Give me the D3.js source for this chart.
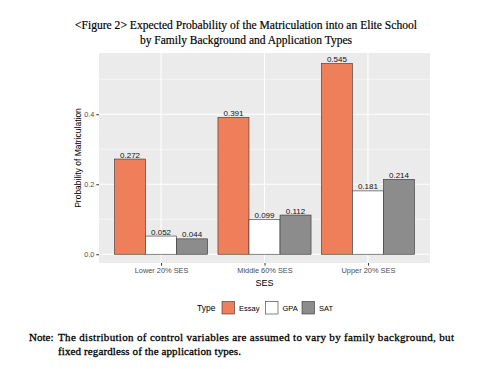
<!DOCTYPE html>
<html><head><meta charset="utf-8">
<script src="https://cdn.jsdelivr.net/npm/d3@7"></script>
<style>body{margin:0;background:#fff;} svg{display:block;}</style>
</head><body>
<svg id="c" width="487" height="369"></svg>
<script>
const categories = ["Lower 20% SES", "Middle 60% SES", "Upper 20% SES"];
const types = ["Essay", "GPA", "SAT"];
const essay = [0.272, 0.391, 0.545];
const gpa = [0.052, 0.099, 0.181];
const sat = [0.044, 0.112, 0.214];
const yTicks = [0.0, 0.2, 0.4];
const yMinor = [0.1, 0.3, 0.5];
const colors = {Essay: "#EF7F5A", GPA: "#FFFFFF", SAT: "#8C8C8C"};

const series = {Essay: essay, GPA: gpa, SAT: sat};
const data = [];
categories.forEach((c, i) => types.forEach(t => data.push({cat: c, type: t, v: series[t][i]})));

const svg = d3.select("#c");
const L = 99, R = 430, T = 53, B = 263;

// Title
const serif = "'Liberation Serif', 'Times New Roman', serif";
svg.append("text").attr("x", 75).attr("y", 29).attr("font-family", serif).attr("font-size", 13)
  .attr("textLength", 342).attr("lengthAdjust", "spacingAndGlyphs").attr("fill", "#000")
  .attr("stroke", "#000").attr("stroke-width", 0.2)
  .text("<Figure 2> Expected Probability of the Matriculation into an Elite School");
svg.append("text").attr("x", 140).attr("y", 44).attr("font-family", serif).attr("font-size", 13)
  .attr("textLength", 212).attr("lengthAdjust", "spacingAndGlyphs").attr("fill", "#000")
  .attr("stroke", "#000").attr("stroke-width", 0.2)
  .text("by Family Background and Application Types");

// ggplot-like discrete scale: expand 0.6 units each side
const unit = (R - L) / 3.2;
const xc = c => L + unit * (0.6 + categories.indexOf(c));
const sub = d3.scaleBand().domain(types).range([-unit * 0.45, unit * 0.45]);
const y = d3.scaleLinear().domain([-0.025, 0.575]).range([B, T]);

const g = svg.append("g");
g.append("rect").attr("x", L).attr("y", T).attr("width", R - L).attr("height", B - T).attr("fill", "#EBEBEB");
g.selectAll(".minor").data(yMinor).join("line").attr("x1", L).attr("x2", R)
  .attr("y1", d => y(d)).attr("y2", d => y(d)).attr("stroke", "#fff").attr("stroke-width", 0.55);
g.selectAll(".major").data(yTicks).join("line").attr("x1", L).attr("x2", R)
  .attr("y1", d => y(d)).attr("y2", d => y(d)).attr("stroke", "#fff").attr("stroke-width", 1.1);
g.selectAll(".vmaj").data(categories).join("line").attr("y1", T).attr("y2", B)
  .attr("x1", d => xc(d)).attr("x2", d => xc(d)).attr("stroke", "#fff").attr("stroke-width", 1.1);

const sans = "'Liberation Sans', Arial, sans-serif";
// bars
g.selectAll(".bar").data(data).join("rect")
  .attr("x", d => xc(d.cat) + sub(d.type)).attr("width", sub.bandwidth())
  .attr("y", d => y(d.v)).attr("height", d => y(0) - y(d.v))
  .attr("fill", d => colors[d.type]).attr("stroke", "#333").attr("stroke-width", 0.6);
g.selectAll(".lbl").data(data).join("text")
  .attr("x", d => xc(d.cat) + sub(d.type) + sub.bandwidth() / 2).attr("y", d => y(d.v) - 1.5)
  .attr("text-anchor", "middle").attr("font-family", sans)
  .attr("font-size", 8).attr("fill", "#111").text(d => d.v.toFixed(3));

// y axis
const ya = svg.append("g").attr("transform", `translate(${L},0)`)
  .call(d3.axisLeft(y).tickValues(yTicks).tickFormat(d3.format(".1f")).tickSize(2.7).tickPadding(2));
ya.select(".domain").remove();
ya.selectAll("line").attr("stroke", "#333");
ya.selectAll("text").attr("font-family", sans).attr("font-size", 7.3).attr("fill", "#4D4D4D");
// x axis
const xa = svg.append("g").attr("transform", `translate(0,${B})`)
  .call(d3.axisBottom(d3.scaleOrdinal().domain(categories).range(categories.map(xc))).tickSize(2.7).tickPadding(2));
xa.select(".domain").remove();
xa.selectAll("line").attr("stroke", "#333");
xa.selectAll("text").attr("font-family", sans).attr("font-size", 7.4).attr("fill", "#4D4D4D");

svg.append("text").attr("transform", `translate(81,${(T + B) / 2}) rotate(-90)`).attr("text-anchor", "middle")
  .attr("font-family", sans).attr("font-size", 8.5).attr("fill", "#000").text("Probability of Matriculation");
svg.append("text").attr("x", (L + R) / 2).attr("y", 286).attr("text-anchor", "middle")
  .attr("font-family", sans).attr("font-size", 9).attr("fill", "#000").text("SES");

// legend
svg.append("text").attr("x", 197).attr("y", 311).attr("font-family", sans).attr("font-size", 8.5).attr("fill", "#000").text("Type");
const keyX = [222, 265.5, 302];
const lg = svg.selectAll(".lg").data(types).join("g").attr("transform", (d, i) => `translate(${keyX[i]},301.5)`);
lg.append("rect").attr("width", 12.5).attr("height", 12.5).attr("fill", d => colors[d]).attr("stroke", "#333").attr("stroke-width", 0.6);
lg.append("text").attr("x", 17).attr("y", 9.3).attr("font-family", sans).attr("font-size", 7.5).attr("fill", "#000").text(d => d);

// note
const note = svg.append("g").attr("font-family", serif).attr("font-size", 11).attr("fill", "#000")
  .attr("stroke", "#000").attr("stroke-width", 0.3);
note.append("text").attr("x", 29).attr("y", 341).text("Note:");
note.append("text").attr("x", 58).attr("y", 341).attr("textLength", 396).attr("lengthAdjust", "spacing")
  .text("The distribution of control variables are assumed to vary by family background, but");
note.append("text").attr("x", 58).attr("y", 355).attr("textLength", 183).attr("lengthAdjust", "spacing")
  .text("fixed regardless of the application types.");
</script>
</body></html>
